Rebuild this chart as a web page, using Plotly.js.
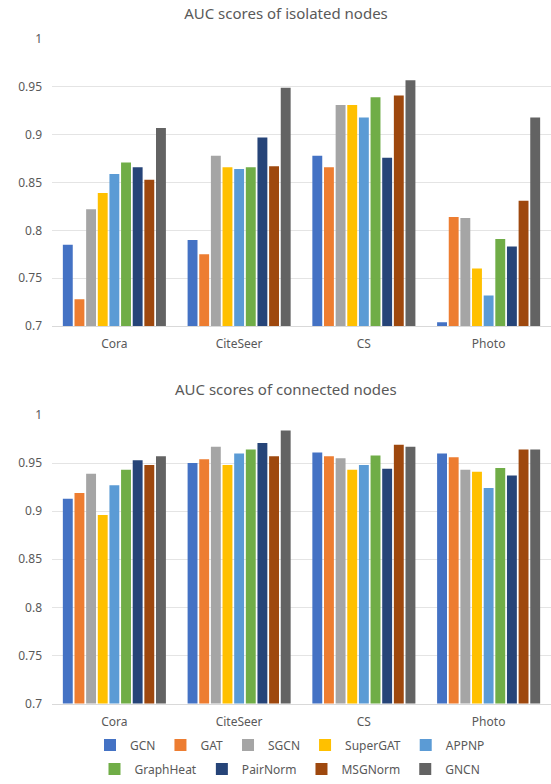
<!DOCTYPE html>
<html>
<head>
<meta charset="utf-8">
<script src="https://cdn.plot.ly/plotly-3.0.1.min.js"></script>
<style>html,body{margin:0;padding:0;background:#fff;}#chart{width:551px;height:784px;}</style>
</head>
<body>
<div id="chart"></div>
<script>
// ---- data ----
const categories = ['Cora', 'CiteSeer', 'CS', 'Photo'];
const models = ['GCN', 'GAT', 'SGCN', 'SuperGAT', 'APPNP', 'GraphHeat', 'PairNorm', 'MSGNorm', 'GNCN'];
const colors = ['#4472C4', '#ED7D31', '#A5A5A5', '#FFC000', '#5B9BD5', '#70AD47', '#264478', '#9E480E', '#636363'];
const yTickVals = [0.7, 0.75, 0.8, 0.85, 0.9, 0.95, 1];
const yTickText = ['0.7', '0.75', '0.8', '0.85', '0.9', '0.95', '1'];

// AUC scores of isolated nodes (Cora, CiteSeer, CS, Photo)
const isoGCN       = [0.785, 0.790, 0.878, 0.704];
const isoGAT       = [0.728, 0.775, 0.866, 0.814];
const isoSGCN      = [0.822, 0.878, 0.931, 0.813];
const isoSuperGAT  = [0.839, 0.866, 0.931, 0.760];
const isoAPPNP     = [0.859, 0.864, 0.918, 0.732];
const isoGraphHeat = [0.871, 0.866, 0.939, 0.791];
const isoPairNorm  = [0.866, 0.897, 0.876, 0.783];
const isoMSGNorm   = [0.853, 0.867, 0.941, 0.831];
const isoGNCN      = [0.907, 0.949, 0.957, 0.918];

// AUC scores of connected nodes (Cora, CiteSeer, CS, Photo)
const conGCN       = [0.913, 0.950, 0.961, 0.960];
const conGAT       = [0.919, 0.954, 0.957, 0.956];
const conSGCN      = [0.939, 0.967, 0.955, 0.943];
const conSuperGAT  = [0.896, 0.948, 0.943, 0.941];
const conAPPNP     = [0.927, 0.960, 0.948, 0.924];
const conGraphHeat = [0.943, 0.964, 0.958, 0.945];
const conPairNorm  = [0.953, 0.971, 0.944, 0.937];
const conMSGNorm   = [0.948, 0.957, 0.969, 0.964];
const conGNCN      = [0.957, 0.984, 0.967, 0.964];

const isolated = [isoGCN, isoGAT, isoSGCN, isoSuperGAT, isoAPPNP, isoGraphHeat, isoPairNorm, isoMSGNorm, isoGNCN];
const connected = [conGCN, conGAT, conSGCN, conSuperGAT, conAPPNP, conGraphHeat, conPairNorm, conMSGNorm, conGNCN];

// ---- traces ----
const traces = [];
models.forEach((m, i) => {
  traces.push({
    type: 'bar', name: m, x: categories, y: isolated[i],
    xaxis: 'x', yaxis: 'y',
    marker: {color: colors[i]},
    legendgroup: m, showlegend: true,
    legend: i < 5 ? 'legend' : 'legend2',
    hoverinfo: 'name+y'
  });
});
models.forEach((m, i) => {
  traces.push({
    type: 'bar', name: m, x: categories, y: connected[i],
    xaxis: 'x2', yaxis: 'y2',
    marker: {color: colors[i]},
    legendgroup: m, showlegend: false,
    hoverinfo: 'name+y'
  });
});

const fontFam = '"Noto Sans", "Open Sans", sans-serif';
const grey = '#595959';
const H = 784;

function yAxis(domain, anchor) {
  return {
    domain: domain, anchor: anchor, range: [0.7, 1.0],
    tickvals: yTickVals, ticktext: yTickText,
    showgrid: true, gridcolor: '#E4E4E4', gridwidth: 1,
    zeroline: false, showline: false, ticks: '',
    ticklabelstandoff: 9,
    tickfont: {family: fontFam, size: 12, color: grey},
    fixedrange: true
  };
}
function xAxis(anchor) {
  return {
    domain: [52 / 551, 1], anchor: anchor,
    showline: true, linecolor: '#D9D9D9', linewidth: 1,
    showgrid: false, zeroline: false, ticks: '',
    ticklabelstandoff: 7,
    tickfont: {family: fontFam, size: 12, color: grey},
    fixedrange: true
  };
}

const layout = {
  width: 551, height: 784,
  margin: {l: 0, r: 0, t: 0, b: 0},
  paper_bgcolor: '#FFFFFF', plot_bgcolor: '#FFFFFF',
  barmode: 'group', bargap: 0.16, bargroupgap: 0.15,
  font: {family: fontFam, color: grey},
  title: {
    text: 'AUC scores of isolated nodes',
    x: 286 / 551, xanchor: 'center', xref: 'paper',
    y: 1 - 14 / H, yanchor: 'middle', yref: 'paper',
    font: {family: fontFam, size: 15, color: grey}
  },
  annotations: [{
    text: 'AUC scores of connected nodes',
    x: 286 / 551, xanchor: 'center', xref: 'paper',
    y: 1 - 389 / H, yanchor: 'middle', yref: 'paper',
    showarrow: false,
    font: {family: fontFam, size: 15, color: grey}
  }],
  xaxis: xAxis('y'),
  yaxis: yAxis([1 - 326 / H, 1 - 39 / H], 'x'),
  xaxis2: xAxis('y2'),
  yaxis2: yAxis([1 - 703.5 / H, 1 - 415 / H], 'x2'),
  legend: {
    orientation: 'h', x: 290 / 551, xanchor: 'center',
    y: 1 - 745 / H, yanchor: 'middle',
    font: {family: fontFam, size: 12, color: grey},
    bgcolor: 'rgba(0,0,0,0)', itemclick: false, itemdoubleclick: false
  },
  legend2: {
    orientation: 'h', x: 290 / 551, xanchor: 'center',
    y: 1 - 769 / H, yanchor: 'middle',
    font: {family: fontFam, size: 12, color: grey},
    bgcolor: 'rgba(0,0,0,0)', itemclick: false, itemdoubleclick: false
  },
  showlegend: true
};

Plotly.newPlot('chart', traces, layout, {displayModeBar: false, staticPlot: false});
</script>
</body>
</html>
